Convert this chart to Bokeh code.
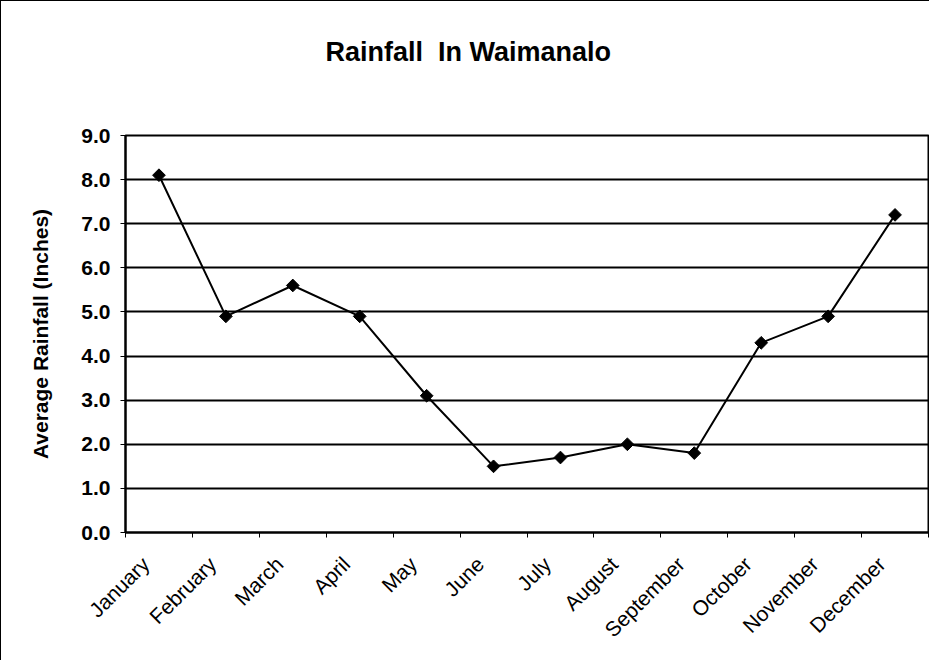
from bokeh.plotting import figure
from bokeh.models import FixedTicker, Range1d, ColumnDataSource, Title
from bokeh.embed import file_html
from bokeh.resources import INLINE
import math

title = "Rainfall\u00a0 In Waimanalo"
months = ["January", "February", "March", "April", "May", "June", "July",
          "August", "September", "October", "November", "December"]
rainfall = [8.1, 4.9, 5.6, 4.9, 3.1, 1.5, 1.7, 2.0, 1.8, 4.3, 4.9, 7.2]
y_ticks = [0, 1, 2, 3, 4, 5, 6, 7, 8, 9]

xpos = [i + 0.5 for i in range(len(months))]
label_pos = [i + 0.3 for i in range(len(months))]
src = ColumnDataSource(dict(x=xpos, y=rainfall, m=months))

p = figure(width=929, height=660, output_backend="svg", toolbar_location=None,
           x_range=Range1d(0, len(months)), y_range=Range1d(0, 9),
           min_border_left=124, min_border_right=2, min_border_top=134,
           min_border_bottom=129)
p.styles = {"border-left": "1px solid black", "border-top": "1px solid black"}

# real title outside, a blank spacer title between it and the frame
p.title.text = title
p.title.align = "left"
p.title.offset = 200
p.title.text_font = "Liberation Sans"
p.title.text_font_size = "27px"
p.title.text_font_style = "bold"
p.title.text_color = "black"
p.title.standoff = 10
p.add_layout(Title(text="\u00a0", text_font_size="1px", standoff=61), "above")

p.outline_line_color = "black"
p.outline_line_width = 2

# grid
p.xgrid.visible = False
p.ygrid.grid_line_color = "black"
p.ygrid.grid_line_width = 2
p.ygrid.ticker = FixedTicker(ticks=y_ticks)

# y axis
p.yaxis.ticker = FixedTicker(ticks=y_ticks)
p.yaxis.major_label_overrides = {t: f"{t:.1f}" for t in y_ticks}
p.yaxis.axis_label = "Average Rainfall (Inches)"
p.yaxis.axis_label_text_font = "Liberation Sans"
p.yaxis.axis_label_text_font_size = "21px"
p.yaxis.axis_label_text_font_style = "bold"
p.yaxis.axis_label_text_color = "black"
p.yaxis.axis_label_standoff = 26
p.yaxis.major_label_text_font = "Liberation Sans"
p.yaxis.major_label_text_font_size = "21px"
p.yaxis.major_label_text_font_style = "bold"
p.yaxis.major_label_text_color = "black"
p.yaxis.major_label_standoff = 10
p.yaxis.axis_line_width = 2
p.yaxis.axis_line_color = "black"
p.yaxis.major_tick_out = 5
p.yaxis.major_tick_in = 0
p.yaxis.major_tick_line_color = "black"
p.yaxis.minor_tick_out = 0
p.yaxis.minor_tick_in = 0

# x axis: labels slightly left of category centres, ticks at category boundaries
p.xaxis.ticker = FixedTicker(ticks=label_pos, minor_ticks=list(range(len(months) + 1)))
p.xaxis.major_label_overrides = {x: m for x, m in zip(label_pos, months)}
p.xaxis.major_label_orientation = math.pi / 4
p.xaxis.major_label_text_font = "Liberation Sans"
p.xaxis.major_label_text_font_size = "21px"
p.xaxis.major_label_text_color = "black"
p.xaxis.major_label_standoff = 23
p.xaxis.axis_line_width = 2
p.xaxis.axis_line_color = "black"
p.xaxis.major_tick_out = 0
p.xaxis.major_tick_in = 0
p.xaxis.minor_tick_out = 5
p.xaxis.minor_tick_in = 0
p.xaxis.minor_tick_line_color = "black"

p.line("x", "y", source=src, line_color="black", line_width=2)
p.scatter("x", "y", source=src, marker="square", angle=math.pi / 4, size=9,
          fill_color="black", line_color="black")

open("out.html", "w").write(file_html(p, INLINE))
